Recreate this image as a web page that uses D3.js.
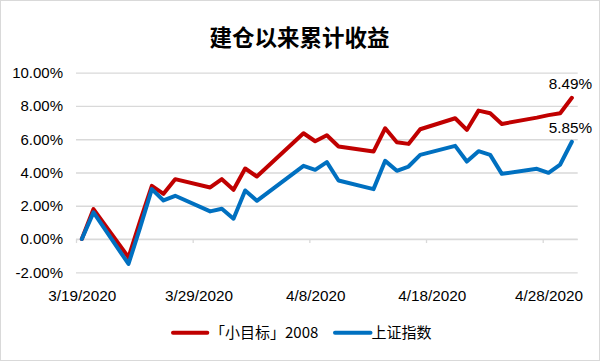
<!DOCTYPE html>
<html>
<head>
<meta charset="utf-8">
<script src="https://cdn.jsdelivr.net/npm/d3@7"></script>
<style>
  html, body { margin: 0; padding: 0; background: #fff; }
  svg { display: block; }
</style>
</head>
<body>
<svg id="chart" width="600" height="361"></svg>
<script>
// ---- data ----
const dates = ["2020-03-19","2020-03-20","2020-03-23","2020-03-24","2020-03-25","2020-03-26","2020-03-27",
  "2020-03-30","2020-03-31","2020-04-01","2020-04-02","2020-04-03","2020-04-07","2020-04-08","2020-04-09",
  "2020-04-10","2020-04-13","2020-04-14","2020-04-15","2020-04-16","2020-04-17","2020-04-20","2020-04-21",
  "2020-04-22","2020-04-23","2020-04-24","2020-04-27","2020-04-28","2020-04-29","2020-04-30"];
const seriesNames = ["「小目标」2008", "上证指数"];
const fundValues = [0, 1.8, -1.1, 1.1, 3.2, 2.72, 3.6, 3.1, 3.6, 2.96, 4.24, 3.76, 6.36, 5.88, 6.24,
  5.56, 5.26, 6.66, 5.82, 5.72, 6.6, 7.26, 6.56, 7.72, 7.56, 6.92, 7.3, 7.45, 7.56, 8.49];
const indexValues = [0, 1.6, -1.5, 0.7, 3.0, 2.32, 2.6, 1.66, 1.82, 1.22, 2.92, 2.3, 4.4, 4.16, 4.62,
  3.52, 3.0, 4.7, 4.1, 4.36, 5.06, 5.6, 4.66, 5.28, 5.06, 3.92, 4.22, 3.98, 4.48, 5.85];
const yTicks = [-2, 0, 2, 4, 6, 8, 10];
const xTickDates = ["2020-03-19","2020-03-29","2020-04-08","2020-04-18","2020-04-28"];
const title = "建仓以来累计收益";
const colors = ["#C00000", "#0070C0"];

// ---- setup ----
const svg = d3.select("#chart");
const parse = d3.utcParse("%Y-%m-%d");
const DAY = 864e5;
const mid = s => new Date(parse(s).getTime() + DAY / 2);
const font = "'Liberation Sans', Arial, sans-serif";
const cjk = "'Noto Sans CJK SC', 'Liberation Sans', sans-serif";

svg.append("rect").attr("x", 0.5).attr("y", 0.5).attr("width", 599).attr("height", 360)
  .attr("fill", "#fff").attr("stroke", "#d9d9d9").attr("stroke-width", 1);

const x = d3.scaleUtc()
  .domain([parse("2020-03-19"), parse("2020-05-01")])
  .range([76, 577.7]);
const y = d3.scaleLinear().domain([-2, 10]).range([272.3, 72.7]);

// gridlines + y labels
const yAxis = d3.axisLeft(y).tickValues(yTicks)
  .tickSize(-(577.7 - 76)).tickPadding(13)
  .tickFormat(d => d.toFixed(2) + "%");
const gy = svg.append("g").attr("transform", "translate(76,0)").call(yAxis);
gy.select(".domain").remove();
gy.selectAll(".tick line").attr("stroke", "#d9d9d9").attr("stroke-width", 1.3);
gy.selectAll(".tick text").attr("font-family", font).attr("font-size", 15).attr("fill", "#000");

// x axis ticks at 0 line
const xAxis = d3.axisBottom(x).tickValues(xTickDates.map(parse)).tickSize(4).tickFormat("");
const gx = svg.append("g").attr("transform", `translate(0,${y(0)})`).call(xAxis);
gx.select(".domain").attr("stroke", "#d9d9d9").attr("stroke-width", 1.3).attr("d", "M76,0H577.7");
gx.selectAll(".tick line").attr("stroke", "#d9d9d9").attr("stroke-width", 1.3);

// x labels (centered on the day slot)
const xLabAxis = d3.axisBottom(x).tickValues(xTickDates.map(mid)).tickSize(0)
  .tickFormat(d3.utcFormat("%-m/%-d/%Y"));
const gxl = svg.append("g").attr("transform", "translate(0,290)").call(xLabAxis);
gxl.select(".domain").remove();
gxl.selectAll(".tick text").attr("font-family", font).attr("font-size", 15.3)
  .attr("fill", "#000").attr("dy", "0.71em").attr("y", 0);

// lines
const series = [fundValues, indexValues];
const line = d3.line()
  .x((d, i) => x(mid(dates[i])))
  .y(d => y(d));
series.forEach((vals, k) => {
  svg.append("path").datum(vals).attr("d", line)
    .attr("fill", "none").attr("stroke", colors[k]).attr("stroke-width", 4)
    .attr("stroke-linejoin", "round").attr("stroke-linecap", "round");
});

// end labels
series.forEach((vals, k) => {
  const i = vals.length - 1;
  svg.append("text")
    .attr("x", x(mid(dates[i])) - 1.5)
    .attr("y", y(vals[i]) - 9)
    .attr("text-anchor", "middle")
    .attr("font-family", font).attr("font-size", 15.3).attr("fill", "#000")
    .text(vals[i].toFixed(2) + "%");
});

// title
svg.append("text").attr("x", 299.5).attr("y", 46).attr("text-anchor", "middle")
  .attr("font-family", cjk).attr("font-weight", "bold")
  .attr("font-size", 22.5).attr("fill", "#000").text(title);

// legend
const legendItems = [
  { x0: 173, x1: 207.3, tx: 210 },
  { x0: 335, x1: 370.5, tx: 371.5 }
];
legendItems.forEach((it, k) => {
  svg.append("line").attr("x1", it.x0).attr("x2", it.x1).attr("y1", 332.7).attr("y2", 332.7)
    .attr("stroke", colors[k]).attr("stroke-width", 4).attr("stroke-linecap", "round");
  svg.append("text").attr("x", it.tx).attr("y", 338)
    .attr("font-family", cjk).attr("font-size", 15).attr("fill", "#000")
    .text(seriesNames[k]);
});
</script>
</body>
</html>
